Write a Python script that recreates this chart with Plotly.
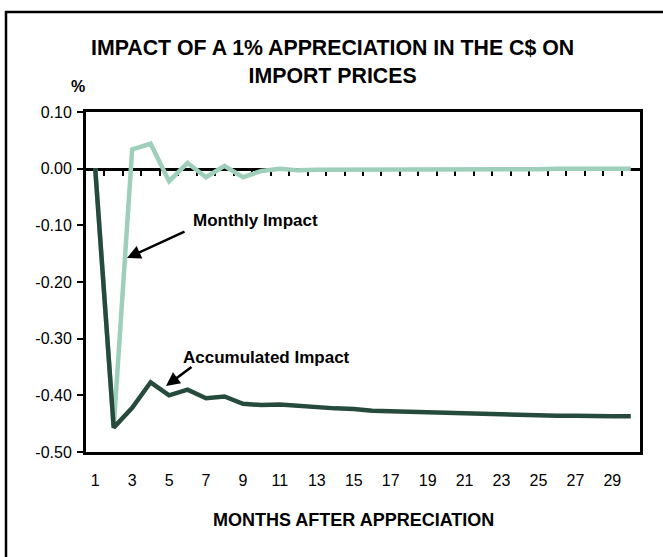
import plotly.graph_objects as go

# ---------------- data ----------------
months = list(range(1, 31))
accumulated = [0.000, -0.457, -0.422, -0.377, -0.400, -0.390, -0.405, -0.402, -0.415, -0.417,
               -0.416, -0.419, -0.421, -0.423, -0.424, -0.427, -0.428, -0.429, -0.430, -0.431,
               -0.432, -0.433, -0.434, -0.434, -0.435, -0.436, -0.436, -0.437, -0.437, -0.437]
monthly = [0.000, -0.457, 0.034, 0.044, -0.022, 0.010, -0.015, 0.005, -0.015, -0.004,
           0.000, -0.003, -0.002, -0.002, -0.002, -0.002, -0.002, -0.001, -0.001, -0.001,
           -0.001, -0.001, -0.001, -0.001, -0.001, 0.000, 0.000, 0.000, 0.000, 0.000]
x_tick_vals = list(range(1, 30, 2))
x_tick_text = [str(v) for v in x_tick_vals]
y_tick_vals = [0.10, 0.00, -0.10, -0.20, -0.30, -0.40, -0.50]
y_tick_text = ["0.10", "0.00", "-0.10", "-0.20", "-0.30", "-0.40", "-0.50"]
boundary_ticks = [m + 0.5 for m in months[:-1]]

title_text = "IMPACT OF A 1% APPRECIATION IN THE C$ ON<br>IMPORT PRICES"
x_title = "MONTHS AFTER APPRECIATION"
y_unit = "%"
label_monthly = "Monthly Impact"
label_accum = "Accumulated Impact"

DARK = "#264b3c"
LIGHT = "#9dcfba"
FONT = "Arial, Liberation Sans, sans-serif"

# ---------------- layout geometry ----------------
W, H = 663, 557
L, R, T, B = 86, 23, 112, 105
PW, PH = W - L - R, H - T - B
YMIN, YMAX = -0.5, 0.1
XMIN, XMAX = 0.5, 30.5


def px_x(p):
    return (p - L) / PW


def px_y(p):
    return (H - B - p) / PH


fig = go.Figure()
fig.add_trace(go.Scatter(x=months, y=monthly, mode="lines", name=label_monthly,
                         line=dict(color=LIGHT, width=4.5), hoverinfo="skip"))
fig.add_trace(go.Scatter(x=months, y=accumulated, mode="lines", name=label_accum,
                         line=dict(color=DARK, width=4.5), hoverinfo="skip"))
# empty trace to create the zero-line category axis
fig.add_trace(go.Scatter(x=[], y=[], xaxis="x2", showlegend=False, hoverinfo="skip"))

fig.update_layout(
    width=W, height=H,
    margin=dict(l=L, r=R, t=T, b=B, pad=0),
    paper_bgcolor="white", plot_bgcolor="white",
    showlegend=False,
    font=dict(family=FONT, color="black", size=16),
    xaxis=dict(range=[XMIN, XMAX], showgrid=False, zeroline=False,
               showline=True, linecolor="black", linewidth=3, mirror=True,
               ticks="", tickvals=x_tick_vals, ticktext=x_tick_text,
               ticklabelstandoff=12, tickfont=dict(size=16)),
    xaxis2=dict(range=[XMIN, XMAX], overlaying="x", anchor="free",
                position=(0 - YMIN) / (YMAX - YMIN), side="bottom",
                showgrid=False, zeroline=False, showline=True, linecolor="black",
                linewidth=3, ticks="outside", ticklen=5, tickwidth=2, tickcolor="black",
                tickvals=boundary_ticks, showticklabels=False, layer="below traces"),
    yaxis=dict(range=[YMIN, YMAX], showgrid=False, zeroline=False,
               showline=True, linecolor="black", linewidth=3, mirror=True,
               ticks="outside", ticklen=6, tickwidth=2, tickcolor="black",
               tickvals=y_tick_vals, ticktext=y_tick_text,
               ticklabelstandoff=2, tickfont=dict(size=16)),
)

# outer chart frame (extends past the right and bottom edges)
fig.add_shape(type="rect", xref="paper", yref="paper",
              x0=px_x(6), x1=px_x(W + 20), y0=px_y(H + 20), y1=px_y(12),
              line=dict(color="black", width=2.5), fillcolor="rgba(0,0,0,0)")

# chart title
fig.add_annotation(text="<b>" + title_text + "</b>", xref="paper", yref="paper",
                   x=px_x(332), y=px_y(62), showarrow=False, align="center",
                   xanchor="center", yanchor="middle",
                   font=dict(size=21.3, family=FONT, color="black"))

# unit label and axis title
fig.add_annotation(text="<b>" + y_unit + "</b>", xref="paper", yref="paper",
                   x=px_x(77.5), y=px_y(86), showarrow=False,
                   xanchor="center", yanchor="middle", font=dict(size=16))
fig.add_annotation(text="<b>" + x_title + "</b>", xref="paper", yref="paper",
                   x=px_x(353), y=px_y(520), showarrow=False,
                   xanchor="center", yanchor="middle", font=dict(size=18))

# series labels
fig.add_annotation(text="<b>" + label_monthly + "</b>", xref="paper", yref="paper",
                   x=px_x(255), y=px_y(220), showarrow=False,
                   xanchor="center", yanchor="middle", font=dict(size=17))
fig.add_annotation(text="<b>" + label_accum + "</b>", xref="paper", yref="paper",
                   x=px_x(266), y=px_y(357), showarrow=False,
                   xanchor="center", yanchor="middle", font=dict(size=17))

# arrows
fig.add_annotation(text="", xref="paper", yref="paper", x=px_x(127), y=px_y(258),
                   ax=59, ay=-27, showarrow=True, arrowhead=2, arrowsize=1.1,
                   arrowwidth=2.5, arrowcolor="black", standoff=0)
fig.add_annotation(text="", xref="paper", yref="paper", x=px_x(166), y=px_y(386),
                   ax=27, ay=-20, showarrow=True, arrowhead=2, arrowsize=1.1,
                   arrowwidth=2.5, arrowcolor="black", standoff=0)

fig.write_html("out.html",
               config={"displayModeBar": False, "staticPlot": True},
               post_script="document.body.style.margin='0px';"
                           "document.body.style.overflow='hidden';")
